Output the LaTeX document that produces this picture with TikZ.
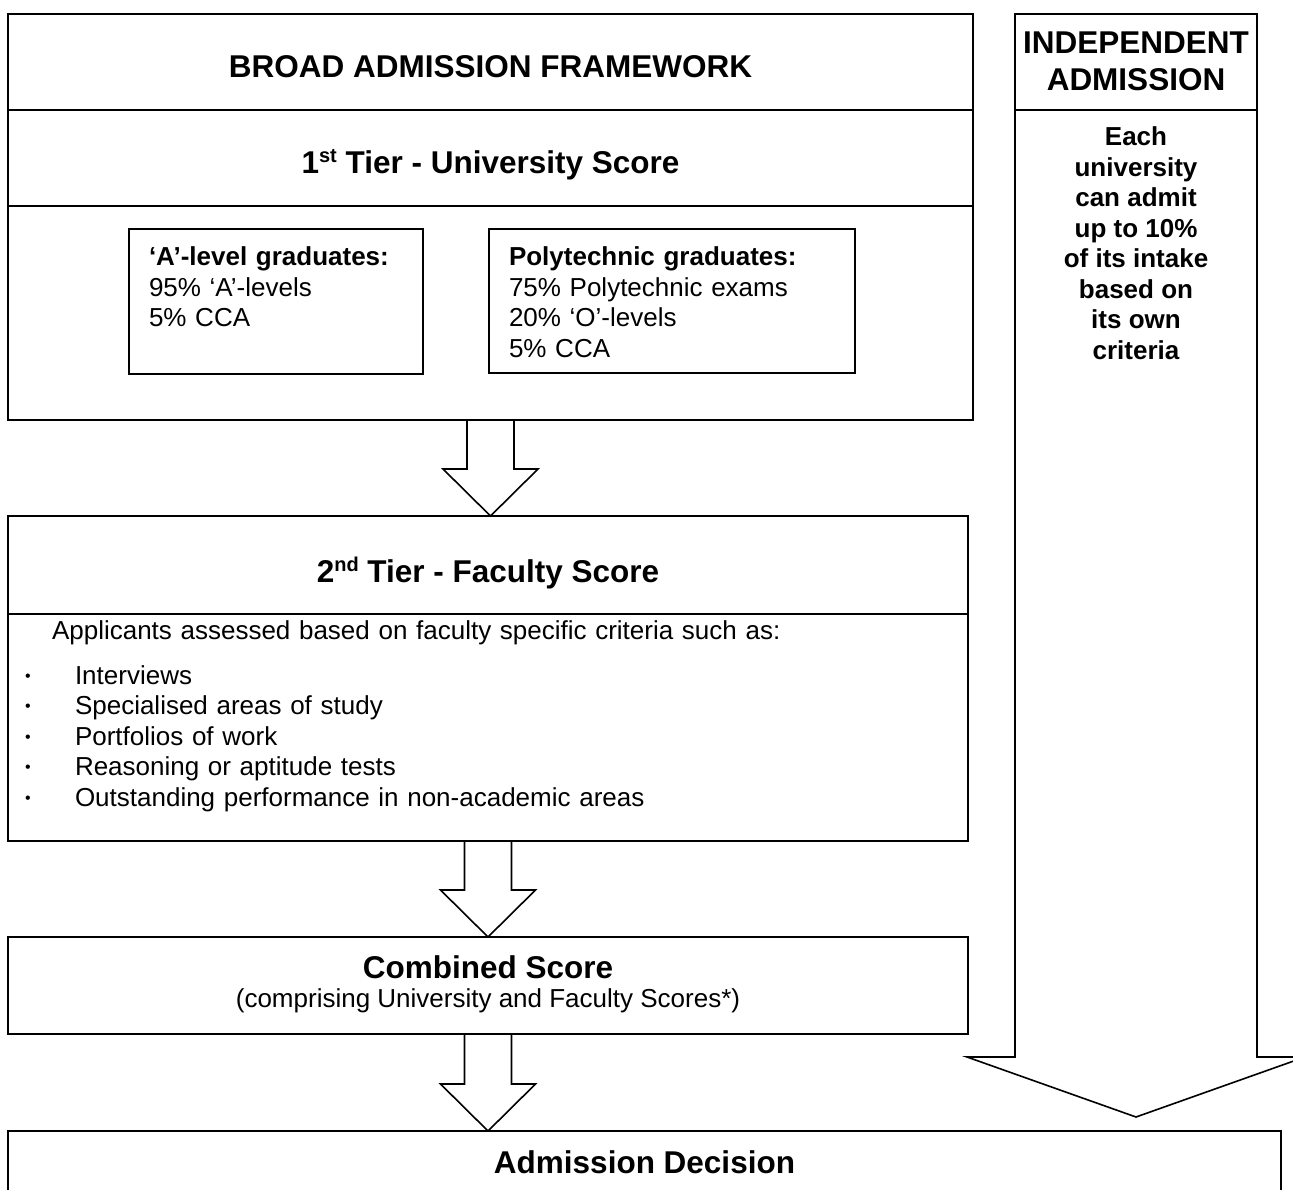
\documentclass[tikz,border=0pt]{standalone}
\usepackage{fontspec}
\setmainfont{Liberation Sans}
\usepackage{tikz}
\usetikzlibrary{positioning,calc}
\newcommand{\headfont}{\fontsize{31.5}{37.4}\selectfont\bfseries}
\newcommand{\bodyfont}{\fontsize{26}{30.5}\selectfont}
\newcommand{\sups}[1]{\raisebox{11pt}{\fontsize{20}{20}\selectfont #1}}
\newcommand{\smallbullet}{\makebox[50pt][l]{\raisebox{3pt}{\fontsize{16}{16}\selectfont •}}}
\newcommand{\fatdown}[2]{%
  \draw ($(#1.south)+(-23.5pt,0pt)$) -- ($(#1.south |- #2.north)+(-23.5pt,47pt)$)
    -- ($(#1.south |- #2.north)+(-47.5pt,47pt)$) -- (#1.south |- #2.north)
    -- ($(#1.south |- #2.north)+(47.5pt,47pt)$) -- ($(#1.south |- #2.north)+(23.5pt,47pt)$)
    -- ($(#1.south)+(23.5pt,0pt)$);}

\begin{document}
\begin{tikzpicture}[x=1pt,y=-1pt,node distance=96pt,line width=1.6pt,line join=miter,
  box/.style={draw,outer sep=0pt,inner xsep=0pt,inner ysep=0pt,minimum width=#1},
  head/.style={font=\headfont,text height=64pt,text depth=32pt},
  sub/.style={font=\bodyfont,align=left,inner xsep=20pt,text height=37pt}]
\useasboundingbox (0,0) rectangle (1293,1190);
\clip (0,0) rectangle (1293,1190);
\node[box=965,head,anchor=north west] (baf) at (8,14) {BROAD ADMISSION FRAMEWORK};
\node[box=965,head,below=0pt of baf] (tier1) {1\sups{st} Tier - University Score};
\node[box=965,minimum height=214pt,below=0pt of tier1] (tier1body) {};
\node[box=294,sub,text width=254pt,text depth=108pt,anchor=north west] (alevel) at (129,229)
  {\textbf{‘A’-level graduates:}\\95\% ‘A’-levels\\5\% CCA};
\node[box=366,sub,text width=326pt,text depth=107pt,anchor=north west] (poly) at (489,229)
  {\textbf{Polytechnic graduates:}\\75\% Polytechnic exams\\20\% ‘O’-levels\\5\% CCA};
\node[box=960,head,text height=66pt,below=of tier1body.south west,anchor=north west] (tier2)
  {2\sups{nd} Tier - Faculty Score};
\node[box=960,font=\bodyfont,align=left,text width=926pt,inner xsep=17pt,
  text height=25pt,text depth=202pt,below=0pt of tier2] (tier2body)
  {\hspace*{27pt}Applicants assessed based on faculty specific criteria such as:\\[14.5pt]
   \smallbullet Interviews\\
   \smallbullet Specialised areas of study\\
   \smallbullet Portfolios of work\\
   \smallbullet Reasoning or aptitude tests\\
   \smallbullet Outstanding performance in non-academic areas};
\node[box=960,font=\bodyfont,align=center,text height=70pt,text depth=27pt,below=of tier2body] (combined)
  {{\headfont Combined Score}\\[-1.5pt](comprising University and Faculty Scores*)};
\node[box=1273,head,text height=42pt,text depth=100pt,below=97pt of combined.south west,anchor=north west] (decision)
  {Admission Decision};
\node[box=242,font=\headfont,align=center,text height=76.7pt,text depth=19.3pt,anchor=north west] (indep) at (1015,14)
  {INDEPENDENT\\ADMISSION};
\node[font={\bodyfont\bfseries},align=center,inner sep=0pt,text height=248.5pt,below=0pt of indep] (indtext)
  {Each\\university\\can admit\\up to 10\%\\of its intake\\based on\\its own\\criteria};
\draw (indep.south west) -- ++(0,947) -- ++(-48,0) -- ++(169,60) -- ++(169,-60) -- ++(-48,0) -- (indep.south east);
\fatdown{tier1body}{tier2}
\fatdown{tier2body}{combined}
\fatdown{combined}{decision}
\end{tikzpicture}
\end{document}
